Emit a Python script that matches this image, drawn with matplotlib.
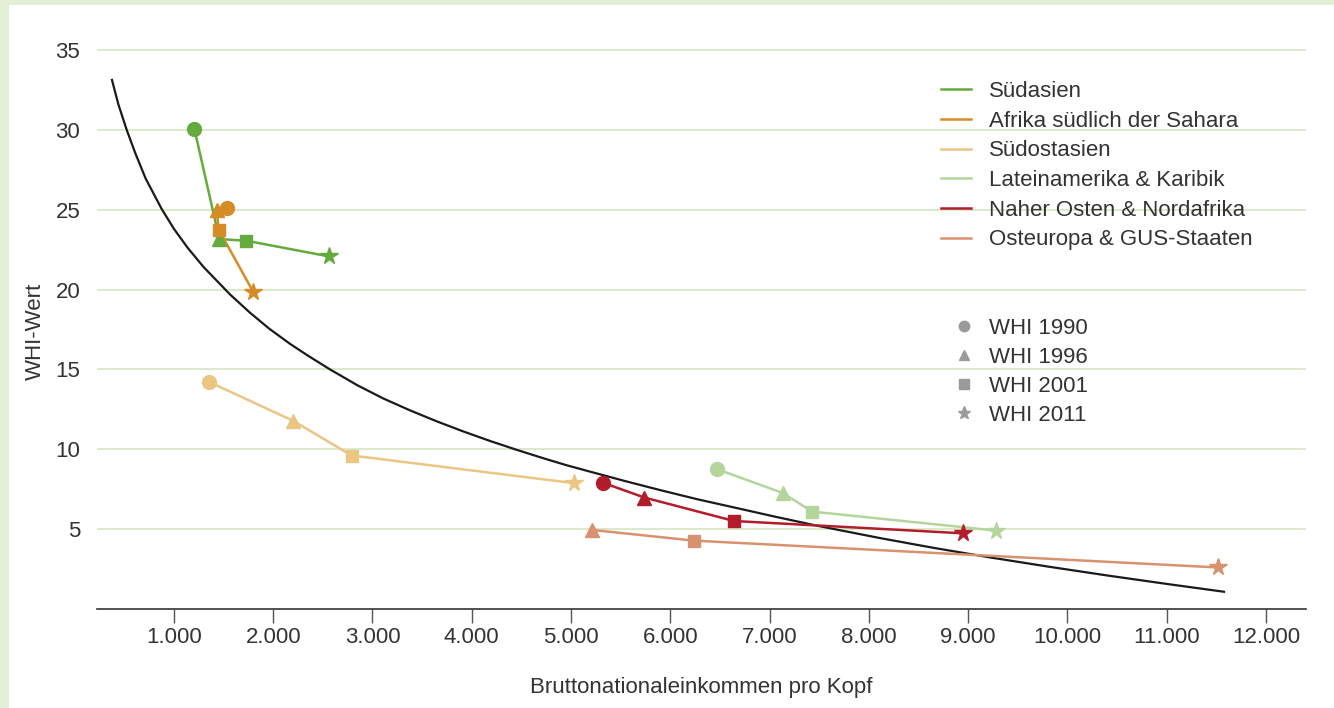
import matplotlib
matplotlib.use("Agg")
from matplotlib import pyplot as plt
from matplotlib.lines import Line2D
from matplotlib.patches import Rectangle

plt.rcParams['font.family'] = ['Liberation Sans', 'DejaVu Sans']

TEXT = "#333333"
GRID = "#d9e8c6"

# years of the WHI and the markers used for them
years = ["WHI 1990", "WHI 1996", "WHI 2001", "WHI 2011"]
year_markers = ["o", "^", "s", "*"]
year_sizes = [10, 10, 9, 13]

regions = ["Südasien", "Afrika südlich der Sahara", "Südostasien",
           "Lateinamerika & Karibik", "Naher Osten & Nordafrika",
           "Osteuropa & GUS-Staaten"]
region_colors = ["#64aa3d", "#d58c27", "#ebc683", "#b4d59b", "#b11d2b", "#d9926f"]

# GNI per capita / WHI score per region, years 1990, 1996, 2001, 2011
suedasien_x = [1206, 1457, 1726, 2565]
suedasien_y = [30.06, 23.16, 23.06, 22.07]
afrika_x = [1534, 1430, 1451, 1800]
afrika_y = [25.1, 25.0, 23.75, 19.84]
suedostasien_x = [1353, 2202, 2790, 5030]
suedostasien_y = [14.22, 11.78, 9.61, 7.88]
latein_x = [6473, 7138, 7427, 9278]
latein_y = [8.75, 7.25, 6.10, 4.91]
nahost_x = [5319, 5738, 6641, 8945]
nahost_y = [7.91, 6.98, 5.51, 4.74]
# no value for 1990
osteuropa_x = [None, 5211, 6238, 11517]
osteuropa_y = [None, 4.95, 4.28, 2.60]

region_x = [suedasien_x, afrika_x, suedostasien_x, latein_x, nahost_x, osteuropa_x]
region_y = [suedasien_y, afrika_y, suedostasien_y, latein_y, nahost_y, osteuropa_y]

# trend curve, points
trend_x = [373, 440, 524, 610, 715, 876, 1000, 1140, 1300, 1564, 1766, 1960, 2169,
           2350, 2572, 2850, 3109, 3380, 3647, 3900, 4184, 4450, 4720, 4950, 5191,
           5550, 5900, 6280, 6669, 7070, 7474, 8112, 8650, 9220, 9800, 10400, 11000,
           11588]
trend_y = [33.19, 31.6, 30.0, 28.55, 26.95, 25.05, 23.8, 22.6, 21.4, 19.7, 18.55,
           17.55, 16.6, 15.86, 15.0, 14.0, 13.18, 12.43, 11.75, 11.15, 10.52, 9.97,
           9.44, 9.01, 8.6, 8.0, 7.44, 6.86, 6.32, 5.76, 5.22, 4.44, 3.83, 3.23, 2.66,
           2.1, 1.57, 1.07]

x_ticks = [1000, 2000, 3000, 4000, 5000, 6000, 7000, 8000, 9000, 10000, 11000, 12000]
x_labels = ["1.000", "2.000", "3.000", "4.000", "5.000", "6.000", "7.000",
            "8.000", "9.000", "10.000", "11.000", "12.000"]
y_ticks = [5, 10, 15, 20, 25, 30, 35]

fig = plt.figure(figsize=(13.34, 7.08), dpi=100, facecolor="#e3eed6")
fig.patches.append(Rectangle((9 / 1334, 0), 1, 1 - 5 / 708, transform=fig.transFigure,
                             facecolor="white", edgecolor="none", zorder=-10))
ax = fig.add_axes([97 / 1334, 1 - 609 / 708, (1306 - 97) / 1334, (609 - 26) / 708])
ax.set_facecolor("none")

ax.plot(trend_x, trend_y, color="#1a1a1a", lw=1.6, zorder=3,
        solid_capstyle="butt", solid_joinstyle="round")

for xs, ys, col in zip(region_x, region_y, region_colors):
    px = [x for x in xs if x is not None]
    py = [y for y in ys if y is not None]
    ax.plot(px, py, color=col, lw=1.8, zorder=4)
    for x, y, m, s in zip(xs, ys, year_markers, year_sizes):
        if x is None:
            continue
        ax.plot([x], [y], marker=m, ms=s, color=col, mec=col, lw=0, zorder=5)

ax.set_xlim(225, 12403)
ax.set_ylim(0, 36.5)
ax.set_yticks(y_ticks)
ax.set_xticks(x_ticks)
ax.set_xticklabels(x_labels)
ax.grid(axis="y", color=GRID, lw=1.3)
ax.set_axisbelow(True)
for s in ["top", "right", "left"]:
    ax.spines[s].set_visible(False)
ax.spines["bottom"].set_color("#333333")
ax.spines["bottom"].set_linewidth(1.2)
ax.tick_params(axis="y", length=0, pad=12, labelsize=16, labelcolor=TEXT)
ax.tick_params(axis="x", length=10, width=1, color="#555555", direction="out",
               pad=3, labelsize=16, labelcolor=TEXT)
ax.set_xlabel("Bruttonationaleinkommen pro Kopf", fontsize=16, color=TEXT, labelpad=21)
ax.set_ylabel("WHI-Wert", fontsize=16, color=TEXT)
ax.yaxis.set_label_coords(-0.042, (609 - 331) / 583)

h1 = [Line2D([], [], color=c, lw=1.8) for c in region_colors]
leg1 = ax.legend(h1, regions, loc="upper left", bbox_to_anchor=(921 / 1334, 1 - 61 / 708),
                 bbox_transform=fig.transFigure, frameon=False, fontsize=16,
                 handlelength=1.35, handletextpad=0.8, labelspacing=0.39, labelcolor=TEXT)
ax.add_artist(leg1)

h2 = [Line2D([], [], color="#9a9a9a", marker=m, lw=0, ms=s * 0.75)
      for m, s in zip(year_markers, year_sizes)]
ax.legend(h2, years, loc="upper left", bbox_to_anchor=(935 / 1334, 1 - 298 / 708),
          bbox_transform=fig.transFigure, frameon=False, fontsize=16,
          handlelength=0.8, handletextpad=0.72, labelspacing=0.36, labelcolor=TEXT)

fig.savefig("out.png", dpi=100, facecolor=fig.get_facecolor())
